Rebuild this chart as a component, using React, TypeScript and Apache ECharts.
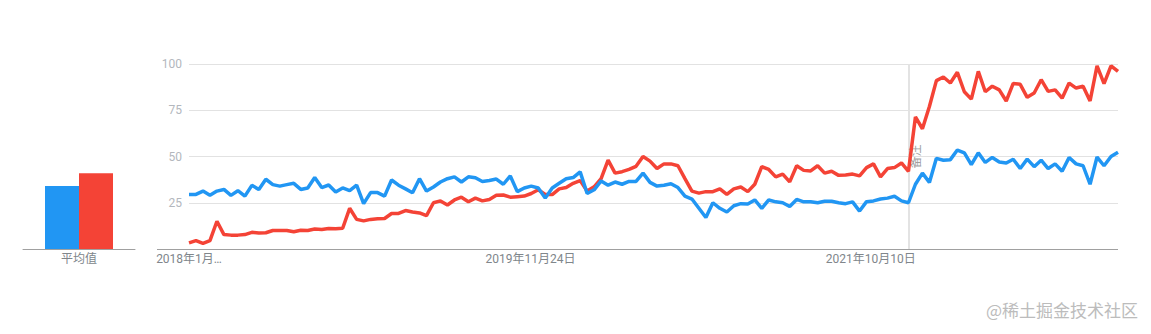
import React, { useEffect, useRef } from "react";
import * as echarts from "echarts";

// Weekly interest (sampled), left → right
const blueValues = [
  29.5, 29.5, 31.3, 29, 31.3, 32.2, 29, 31.5, 28.6, 34.4,
  32.2, 37.7, 34.8, 34, 34.8, 35.5, 32.2, 33, 38.6, 33.2,
  34.6, 30.8, 33, 31.5, 34.5, 24.5, 30.5, 30.5, 28.6, 37.3,
  34.5, 32.5, 30.4, 38, 31.3, 33.5, 36.2, 38, 39, 36.2,
  39, 38.5, 36.5, 37, 37.8, 35, 39.5, 31, 33, 34,
  33, 27.5, 33, 35.5, 38, 38.6, 41.7, 30, 32, 36.8,
  34.5, 36.2, 35, 36.5, 36.5, 41, 36, 34, 34.5, 35.3,
  33.2, 28.6, 27, 22, 17, 25, 22, 20, 23.4, 24.5,
  24.3, 26.5, 22, 26.5, 25.5, 25, 23, 26.8, 25.5, 25.5,
  25, 25.8, 25.8, 25, 24.5, 25.5, 20.5, 25.6, 26, 27,
  27.5, 28.5, 26, 25, 35, 41, 36, 49, 48, 48.3,
  53.5, 52, 45.6, 52, 46.8, 49.5, 47, 46.5, 48.5, 43.5,
  48.6, 44.5, 48, 43.5, 46, 42, 49.5, 46, 45, 35,
  49.7, 45, 50, 52.3,
];

const redValues = [
  3.3, 4.5, 3, 4.5, 15, 7.8, 7.5, 7.5, 7.8, 9,
  8.7, 8.8, 10, 10, 10, 9.3, 10.1, 10, 10.8, 10.5,
  11.1, 11, 11.2, 22, 16, 15.2, 16, 16.3, 16.5, 19.2,
  19.2, 20.8, 20, 19.5, 18, 25, 26, 23.8, 26.5, 28,
  25.5, 27.5, 26, 26.8, 29, 29.2, 28, 28.3, 28.6, 30,
  32, 29.5, 29.4, 32.5, 33.2, 35.5, 37, 31.3, 33.6, 38,
  48, 41, 41.8, 43, 44.7, 50, 47.5, 43.5, 46, 46,
  45, 38, 31.3, 30.2, 31, 31, 32.5, 29.5, 32.5, 33.5,
  31, 35, 44.5, 43, 39, 40.5, 36.3, 45, 42.5, 42.2,
  45, 41, 42, 39.8, 40, 40.5, 39.5, 44, 46, 39,
  43.5, 44, 46.5, 42, 71.4, 65, 77, 91, 93, 89.7,
  95.5, 85, 81, 96, 85, 88, 86, 80, 89.5, 89,
  82, 84.3, 91.5, 85.2, 86, 81.5, 89.7, 87, 88, 80,
  99, 89.4, 99, 96,
];

const averageCategory = ["平均值"];
const blueAverage = [34];
const redAverage = [41];

const tickIndex = [0, 48.9, 97.6];
const tickText = ["2018年1月…", "2019年11月24日", "2021年10月10日"];
const yTicks = [0, 25, 50, 75, 100];

const noteIndex = 103;
const noteText = "备注";
const watermark = "@稀土掘金技术社区";

const BLUE = "#2196f3";
const RED = "#f44336";
const FONT = "Roboto, 'Noto Sans CJK SC', sans-serif";

export default function App() {
  const ref = useRef<HTMLDivElement>(null);

  useEffect(() => {
    document.body.style.margin = "0";
    if (!ref.current) return;
    const chart = echarts.init(ref.current, undefined, { renderer: "svg" });
    const toXY = (arr: number[]) => arr.map((v, i) => [i, v]);

    chart.setOption({
      animation: false,
      textStyle: { fontFamily: FONT },
      grid: [
        { left: 189, right: 33, top: 64, bottom: 85 },
        { left: 23, width: 112, top: 64, bottom: 85 },
      ],
      xAxis: [
        {
          type: "value",
          gridIndex: 0,
          min: 0,
          max: blueValues.length - 1,
          axisLine: { show: false },
          axisTick: { show: false },
          splitLine: { show: false },
          axisLabel: {
            customValues: tickIndex,
            color: "#80868b",
            fontSize: 12,
            margin: 4,
            fontFamily: FONT,
            formatter: (val: number) => {
              const k = tickIndex.findIndex((t) => Math.abs(t - val) < 0.01);
              return k >= 0 ? tickText[k] : "";
            },
          },
        },
        {
          type: "category",
          gridIndex: 1,
          data: averageCategory,
          axisLine: { show: true, lineStyle: { color: "#a0a0a0", width: 1 } },
          axisTick: { show: false },
          axisLabel: { color: "#80868b", fontSize: 12, margin: 4, fontFamily: FONT },
        },
      ],
      yAxis: [
        {
          type: "value",
          gridIndex: 0,
          min: yTicks[0],
          max: yTicks[yTicks.length - 1],
          interval: 25,
          axisLine: { show: false },
          axisTick: { show: false },
          splitLine: { show: true, lineStyle: { color: "#e2e2e2", width: 1 } },
          axisLabel: {
            color: "#b3b7bd",
            fontSize: 12,
            margin: 7,
            fontFamily: FONT,
            formatter: (v: number) => (v === 0 ? "" : String(v)),
          },
        },
        {
          type: "value",
          gridIndex: 1,
          min: yTicks[0],
          max: yTicks[yTicks.length - 1],
          show: false,
          splitLine: { show: false },
        },
      ],
      series: [
        {
          name: "red",
          type: "line",
          xAxisIndex: 0,
          yAxisIndex: 0,
          data: toXY(redValues),
          showSymbol: false,
          symbol: "none",
          clip: false,
          lineStyle: { color: RED, width: 3.5 },
          itemStyle: { color: RED },
          markLine: {
            silent: true,
            symbol: "none",
            data: [{ xAxis: noteIndex }],
            lineStyle: { color: "#e3e3e3", width: 2, type: "solid" },
            label: {
              show: true,
              formatter: noteText,
              position: "insideMiddleBottom",
              distance: 2,
              color: "#9e9e9e",
              fontSize: 12,
              fontFamily: FONT,
            },
            z: 1,
          },
        },
        {
          name: "blue",
          type: "line",
          xAxisIndex: 0,
          yAxisIndex: 0,
          data: toXY(blueValues),
          showSymbol: false,
          symbol: "none",
          clip: false,
          lineStyle: { color: BLUE, width: 3.5 },
          itemStyle: { color: BLUE },
        },
        {
          name: "blueAvg",
          type: "bar",
          xAxisIndex: 1,
          yAxisIndex: 1,
          data: blueAverage,
          barWidth: 34,
          barGap: "0%",
          itemStyle: { color: BLUE },
        },
        {
          name: "redAvg",
          type: "bar",
          xAxisIndex: 1,
          yAxisIndex: 1,
          data: redAverage,
          barWidth: 34,
          barGap: "0%",
          itemStyle: { color: RED },
        },
      ],
      graphic: [
        {
          type: "line",
          shape: { x1: 157, y1: 249.5, x2: 1118, y2: 249.5 },
          style: { stroke: "#a0a0a0", lineWidth: 1 },
          z: 10,
          silent: true,
        },
        {
          type: "text",
          right: 13,
          top: 301,
          style: {
            text: watermark,
            fill: "#bcbcbc",
            fontSize: 17,
            fontFamily: "'Noto Sans CJK SC', sans-serif",
          },
          silent: true,
        },
      ],
    });

    return () => chart.dispose();
  }, []);

  return <div ref={ref} style={{ width: 1151, height: 334 }} />;
}
